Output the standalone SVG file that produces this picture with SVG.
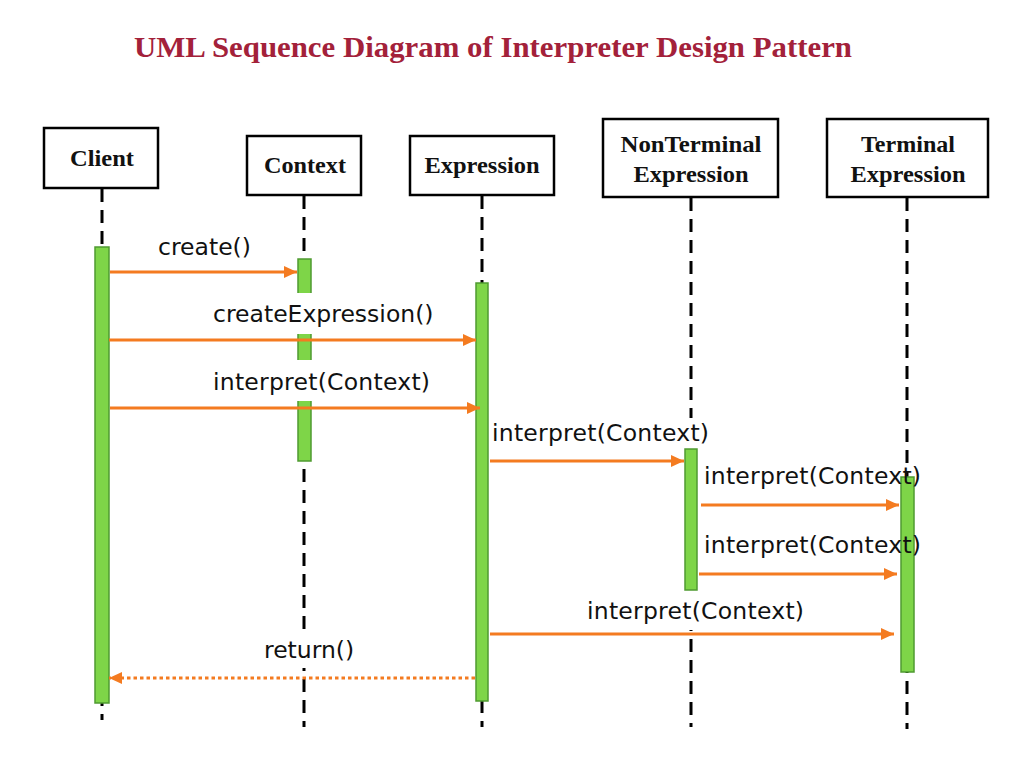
<svg xmlns="http://www.w3.org/2000/svg" width="1011" height="758" viewBox="0 0 1011 758">
<style>
.box{fill:#fff;stroke:#000;stroke-width:2.5}
.nt{font-family:"Liberation Serif","Times New Roman",serif;font-weight:bold;font-size:23.5px;fill:#111;text-anchor:middle}
.life{stroke:#000;stroke-width:3;stroke-dasharray:13 8;fill:none}
.bar{fill:#7ED548;stroke:#4F9A30;stroke-width:1.5}
.msg{stroke:#F47B20;stroke-width:3;fill:none}
.ret{stroke:#F47B20;stroke-width:3;fill:none;stroke-dasharray:3.5 3}
.lbl{font-family:"DejaVu Sans",Verdana,sans-serif;font-size:23.5px;fill:#111}
.bg{fill:#fff}
</style>
<defs>
<marker id="ah" markerUnits="userSpaceOnUse" markerWidth="14" markerHeight="14" viewBox="0 0 14 14" refX="13" refY="7" orient="auto">
<path d="M0,1 L13,7 L0,13 Z" fill="#F47B20"/>
</marker>
</defs>
<rect width="1011" height="758" fill="#fff"/>
<text x="134" y="57" font-family="'Liberation Serif','Times New Roman',serif" font-weight="bold" font-size="29" fill="#A3213A" textLength="718" lengthAdjust="spacingAndGlyphs">UML Sequence Diagram of Interpreter Design Pattern</text>

<g id="lifelines">
<line class="life" x1="102" y1="189" x2="102" y2="720"/>
<line class="life" x1="304" y1="196" x2="304" y2="727"/>
<line class="life" x1="482" y1="196" x2="482" y2="727"/>
<line class="life" x1="691" y1="198" x2="691" y2="727"/>
<line class="life" x1="907" y1="198" x2="907" y2="729"/>
</g>

<g id="context-activation">
<rect class="bar" x="298" y="259" width="13" height="202"/>
</g>

<g id="label-backgrounds">
<rect class="bg" x="211" y="293" width="224" height="41"/>
<rect class="bg" x="211" y="360" width="222" height="41"/>
<rect class="bg" x="490" y="418" width="222" height="30"/>
<rect class="bg" x="702" y="462" width="197" height="30"/>
<rect class="bg" x="702" y="531" width="197" height="30"/>
<rect class="bg" x="585" y="596" width="222" height="34"/>
<rect class="bg" x="262" y="636" width="97" height="32"/>
</g>

<g id="client">
<rect class="box" x="44" y="128" width="114" height="60"/>
<text class="nt" x="102" y="166" textLength="64" lengthAdjust="spacingAndGlyphs">Client</text>
<rect class="bar" x="95" y="247" width="14" height="456"/>
</g>
<g id="context">
<rect class="box" x="247" y="136" width="114" height="59"/>
<text class="nt" x="305" y="173" textLength="82" lengthAdjust="spacingAndGlyphs">Context</text>
</g>
<g id="expression">
<rect class="box" x="410" y="136" width="144" height="59"/>
<text class="nt" x="482" y="173" textLength="115" lengthAdjust="spacingAndGlyphs">Expression</text>
<rect class="bar" x="476" y="283" width="12" height="418"/>
</g>
<g id="nonterminal">
<rect class="box" x="603" y="119" width="175" height="78"/>
<text class="nt" x="691" y="152" textLength="141" lengthAdjust="spacingAndGlyphs">NonTerminal</text>
<text class="nt" x="691" y="182" textLength="115" lengthAdjust="spacingAndGlyphs">Expression</text>
<rect class="bar" x="685" y="449" width="12" height="141"/>
</g>
<g id="terminal">
<rect class="box" x="827" y="119" width="161" height="78"/>
<text class="nt" x="908" y="152" textLength="94" lengthAdjust="spacingAndGlyphs">Terminal</text>
<text class="nt" x="908" y="182" textLength="115" lengthAdjust="spacingAndGlyphs">Expression</text>
<rect class="bar" x="901" y="477" width="13" height="195"/>
</g>

<g id="connectors">
<line class="msg" x1="110" y1="272" x2="297" y2="272" marker-end="url(#ah)"/>
<line class="msg" x1="109" y1="340" x2="476" y2="340" marker-end="url(#ah)"/>
<line class="msg" x1="110" y1="408" x2="480" y2="408" marker-end="url(#ah)"/>
<line class="msg" x1="490" y1="461" x2="684" y2="461" marker-end="url(#ah)"/>
<line class="msg" x1="701" y1="505" x2="899" y2="505" marker-end="url(#ah)"/>
<line class="msg" x1="699" y1="574" x2="897" y2="574" marker-end="url(#ah)"/>
<line class="msg" x1="490" y1="634" x2="894" y2="634" marker-end="url(#ah)"/>
<line class="ret" x1="475" y1="678" x2="109" y2="678" marker-end="url(#ah)"/>
<text class="lbl" x="158" y="255">create()</text>
<text class="lbl" x="213" y="322">createExpression()</text>
<text class="lbl" x="213" y="390" textLength="217">interpret(Context)</text>
<text class="lbl" x="492" y="441" textLength="217">interpret(Context)</text>
<text class="lbl" x="704" y="484" textLength="217">interpret(Context)</text>
<text class="lbl" x="704" y="553" textLength="217">interpret(Context)</text>
<text class="lbl" x="587" y="619" textLength="217">interpret(Context)</text>
<text class="lbl" x="264" y="658">return()</text>
</g>
</svg>
